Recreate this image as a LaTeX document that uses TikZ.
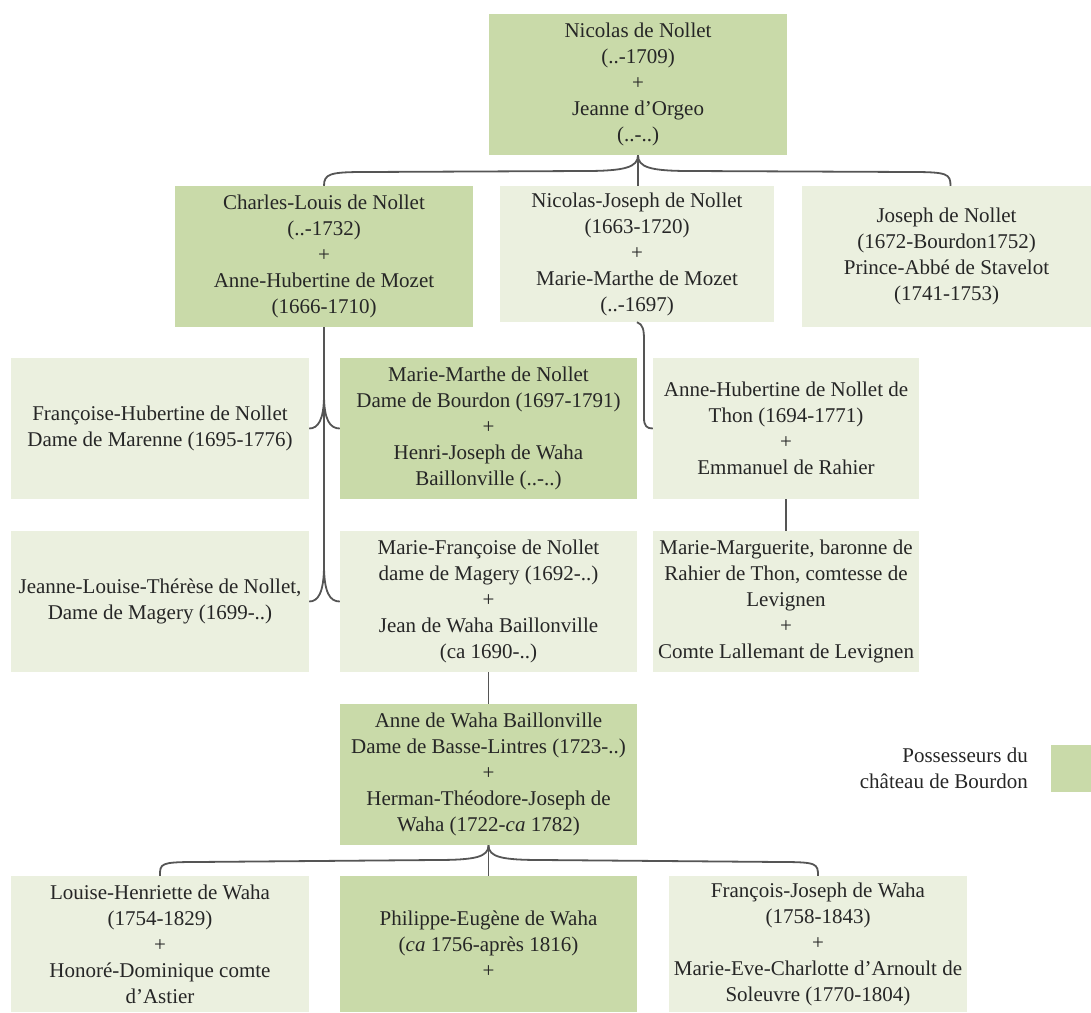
\documentclass[tikz,border=0pt]{standalone}
\usepackage{fontspec}
\setmainfont{Liberation Serif}
\definecolor{ownergreen}{RGB}{201,218,169}
\definecolor{kingreen}{RGB}{235,240,223}
\definecolor{linkgray}{RGB}{85,85,85}
\begin{document}
\begin{tikzpicture}[x=1pt,y=-1pt,
    every node/.style={align=center,inner sep=0pt,text=black!85,
      font=\fontsize{21}{26}\selectfont},
    box/.style={minimum width=298pt,minimum height=141pt},
    owner/.style={box,fill=ownergreen},
    kin/.style={box,fill=kingreen},
    link/.style={draw=linkgray,line width=1.8pt}]
  \useasboundingbox (0,0) rectangle (1091,1012);
  % generation 1
  \node[owner] (nicolas) at (638,84.5)
    {Nicolas de Nollet\\(..-1709)\\+\\Jeanne d’Orgeo\\(..-..)};
  % generation 2
  \node[owner] (charles) at (324,256.5)
    {Charles-Louis de Nollet\\(..-1732)\\+\\Anne-Hubertine de Mozet\\(1666-1710)};
  \node[kin,minimum width=274pt,minimum height=136pt] (nicjos) at (637,254)
    {Nicolas-Joseph de Nollet\\(1663-1720)\\+\\Marie-Marthe de Mozet\\(..-1697)};
  \node[kin,minimum width=289pt] (joseph) at (946.5,256.5)
    {Joseph de Nollet\\(1672-Bourdon1752)\\Prince-Abbé de Stavelot\\(1741-1753)};
  % generation 3
  \node[kin] (francoise) at (160,428.5)
    {Françoise-Hubertine de Nollet\\Dame de Marenne (1695-1776)};
  \node[owner,minimum width=297pt] (mmarthe) at (488.5,428.5)
    {Marie-Marthe de Nollet\\Dame de Bourdon (1697-1791)\\+\\Henri-Joseph de Waha\\Baillonville (..-..)};
  \node[kin,minimum width=266pt] (ahub) at (786,428.5)
    {Anne-Hubertine de Nollet de\\Thon (1694-1771)\\+\\Emmanuel de Rahier};
  \node[kin] (jlouise) at (160,601.5)
    {Jeanne-Louise-Thérèse de Nollet,\\Dame de Magery (1699-..)};
  \node[kin,minimum width=297pt] (mfranc) at (488.5,601.5)
    {Marie-Françoise de Nollet\\dame de Magery (1692-..)\\+\\Jean de Waha Baillonville\\(ca 1690-..)};
  \node[kin,minimum width=266pt] (mmarg) at (786,601.5)
    {Marie-Marguerite, baronne de\\Rahier de Thon, comtesse de\\Levignen\\+\\Comte Lallemant de Levignen};
  % generation 4
  \node[owner,minimum width=297pt] (anne) at (488.5,774.5)
    {Anne de Waha Baillonville\\Dame de Basse-Lintres (1723-..)\\+\\Herman-Théodore-Joseph de\\Waha (1722-\textit{ca} 1782)};
  % generation 5
  \node[kin,minimum height=136pt] (louise) at (160,944)
    {Louise-Henriette de Waha\\(1754-1829)\\+\\Honoré-Dominique comte\\d’Astier};
  \node[owner,minimum width=297pt,minimum height=136pt] (philippe) at (488.5,944)
    {Philippe-Eugène de Waha\\(\textit{ca} 1756-après 1816)\\+};
  \node[kin,minimum height=136pt] (fjoseph) at (818,944)
    {François-Joseph de Waha\\(1758-1843)\\+\\Marie-Eve-Charlotte d’Arnoult de\\Soleuvre (1770-1804)};
  % legend
  \node[anchor=east,align=right] (legend) at (1028,768)
    {Possesseurs du\\château de Bourdon};
  \node[fill=ownergreen,minimum width=40pt,minimum height=47pt] (key) at (1071,768.5) {};
  % links
  \draw[link] (nicolas.south) .. controls +(0,12) and +(40,0) .. (585,171)
    -- (365,172) .. controls +(-35,0) and +(0,-12) .. (charles.north);
  \draw[link] (nicolas.south) .. controls +(0,12) and +(-40,0) .. (690,171)
    -- (912,172) .. controls +(35,0) and +(0,-12) .. ([xshift=4pt]joseph.north);
  \draw[link] (nicolas.south) -- (nicolas.south |- nicjos.north);
  \draw[link] (charles.south) -- (324,395) .. controls (324,420) and (318,428.5) .. (francoise.east);
  \draw[link] (charles.south) -- (324,395) .. controls (324,420) and (330,428.5) .. (mmarthe.west);
  \draw[link] (charles.south) -- (324,565) .. controls (324,593) and (318,601.5) .. (jlouise.east);
  \draw[link] (charles.south) -- (324,565) .. controls (324,593) and (330,601.5) .. (mfranc.west);
  \draw[link] (nicjos.south) .. controls +(6,2) and +(0,-10) .. (644,340)
    -- (644,418) .. controls +(0,8) and +(-6,0) .. (ahub.west);
  \draw[link] (ahub.south) -- (mmarg.north);
  \draw[link] (mfranc.south) -- (anne.north);
  \draw[link] (anne.south) .. controls +(0,12) and +(40,0) .. (435,860)
    -- (195,862) .. controls +(-35,0) and +(0,-12) .. (louise.north);
  \draw[link] (anne.south) .. controls +(0,12) and +(-40,0) .. (542,860)
    -- (782,862) .. controls +(35,0) and +(0,-12) .. (fjoseph.north);
  \draw[link] (anne.south) -- (philippe.north);
\end{tikzpicture}
\end{document}
